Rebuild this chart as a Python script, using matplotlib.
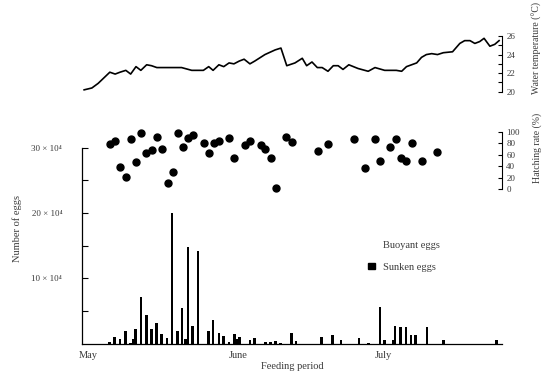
import matplotlib
matplotlib.use('Agg')
import matplotlib.pyplot as plt
from matplotlib.patches import Patch

plt.rcParams['font.family'] = ['Liberation Serif', 'DejaVu Serif']

# days counted from 1 May (May label at 0)
month_days = [0, 31, 61]
month_names = ['May', 'June', 'July']

# water temperature (deg C)
temp_day = [-0.8, 0.8, 2.1, 3.5, 4.5, 5.6, 6.6, 7.8, 8.8, 9.9, 10.9, 12.1, 13.1, 14.2, 17.3,
            19.3, 21.4, 23.8, 24.9, 25.8, 27.0, 28.0, 29.1, 30.1, 31.2, 32.2, 33.4, 34.4, 36.5,
            38.6, 39.8, 41.0, 42.7, 44.2, 45.1, 46.2, 47.3, 48.3, 49.5, 50.6, 51.6, 52.6, 53.8,
            55.7, 57.8, 59.2, 61.2, 63.6, 64.7, 65.7, 67.8, 68.8, 69.8, 70.9, 72.1, 73.3, 75.2,
            76.7, 77.7, 78.8, 79.8, 80.8, 81.7, 82.9, 83.9, 84.8]
temp_val = [20.2, 20.4, 20.9, 21.6, 22.1, 21.9, 22.1, 22.3, 21.9, 22.7, 22.3, 22.9, 22.8, 22.6, 22.6,
            22.6, 22.3, 22.3, 22.7, 22.3, 22.9, 22.7, 23.1, 23.0, 23.3, 23.5, 23.0, 23.3, 24.0,
            24.5, 24.7, 22.8, 23.1, 23.6, 22.8, 23.2, 22.6, 22.6, 22.2, 22.8, 22.8, 22.4, 22.9,
            22.5, 22.2, 22.6, 22.3, 22.3, 22.2, 22.7, 23.1, 23.7, 24.0, 24.1, 24.0, 24.2, 24.3,
            25.2, 25.5, 25.5, 25.2, 25.4, 25.75, 24.9, 25.1, 25.5]

# hatching rate (%)
hatch_day = [4.5, 5.6, 6.7, 7.8, 8.9, 9.9, 11.0, 12.0, 13.1, 14.2, 15.3, 16.4, 17.5, 18.5, 19.5,
             20.6, 21.6, 23.9, 24.9, 25.9, 27.0, 29.1, 30.2, 32.4, 33.4, 35.6, 36.6, 37.7, 38.8,
             40.8, 42.0, 47.4, 49.5, 54.9, 57.1, 59.1, 60.2, 62.3, 63.5, 64.5, 65.6, 66.8, 68.9, 72.0]
hatch_rate = [79, 84, 38, 21, 87, 48, 99, 64, 68, 92, 70, 11, 29, 99, 74,
              89, 95, 81, 64, 81, 84, 89, 54, 77, 85, 78, 71, 54, 2,
              92, 82, 66, 79, 88, 37, 88, 49, 74, 88, 55, 50, 81, 50, 65]

# sunken eggs (x 10^4)
egg_day = [4.5, 5.5, 6.6, 7.7, 8.8, 9.4, 9.8, 10.9, 12.0, 13.1, 14.1, 15.2, 16.3, 17.3, 18.4,
           19.4, 20.1, 20.6, 21.6, 22.7, 24.8, 25.8, 27.0, 28.0, 29.1, 30.2, 30.7, 31.3, 33.4,
           34.4, 36.6, 37.6, 38.7, 39.7, 42.0, 42.9, 48.2, 50.5, 52.2, 55.9, 57.9, 60.2, 61.2,
           62.9, 63.3, 64.5, 65.6, 66.6, 67.6, 69.9, 73.4, 84.3]
sunken = [0.2, 1.1, 0.7, 1.9, 0.15, 0.7, 2.2, 7.2, 4.4, 2.3, 3.2, 1.5, 0.8, 20.0, 2.0,
          5.5, 0.7, 14.8, 2.75, 14.2, 1.9, 3.7, 1.7, 1.2, 0.25, 1.5, 0.75, 1.1, 0.5,
          0.9, 0.2, 0.2, 0.4, 0.15, 1.6, 0.45, 1.1, 1.4, 0.6, 0.85, 0.15, 5.6, 0.6,
          0.6, 2.75, 2.5, 2.6, 1.4, 1.4, 2.5, 0.55, 0.5]

egg_ticks = [10, 20, 30]
egg_ticklabels = ['10 × 10⁴', '20 × 10⁴', '30 × 10⁴']

txt = '#3a3a3a'
W, H = 546, 374
xlim = (-1.3, 85.4)

fig = plt.figure(figsize=(W / 100, H / 100), dpi=100)

def fax(x0, y_top, x1, y_bot):
    return fig.add_axes([x0 / W, 1 - y_bot / H, (x1 - x0) / W, (y_bot - y_top) / H])

# --- egg bars
ax = fax(81.7, 147.6, 502, 343.7)
ax.bar(egg_day, sunken, width=0.55, color='black', linewidth=0)
ax.set_xlim(*xlim)
ax.set_ylim(0, 30)
ax.set_yticks(egg_ticks)
ax.set_yticklabels(egg_ticklabels, fontsize=6.5, color=txt)
ax.set_yticks([5, 15, 25], minor=True)
ax.tick_params(axis='y', which='both', direction='in', length=4, width=0.8, pad=14)
ax.set_xticks(month_days)
ax.set_xticklabels(month_names, fontsize=7.5, color=txt)
ax.tick_params(axis='x', length=0, pad=5)
for s in ['top', 'right']:
    ax.spines[s].set_visible(False)
ax.spines['left'].set_linewidth(0.9)
ax.spines['bottom'].set_linewidth(0.9)
ax.set_xlabel('Feeding period', fontsize=7.5, color=txt, labelpad=2)
fig.text(17 / W, 1 - 228 / H, 'Number of eggs', rotation=90, fontsize=7.5, color=txt,
         ha='center', va='center')
handles = [Patch(facecolor='white', edgecolor='white', label='Buoyant eggs'),
           Patch(facecolor='black', edgecolor='black', label='Sunken eggs')]
ax.legend(handles=handles, loc='upper left', bbox_to_anchor=(0.66, 0.57), frameon=False,
          fontsize=7.5, handlelength=0.6, handleheight=0.6, handletextpad=0.8,
          labelspacing=1.2, labelcolor=txt)

# --- hatching rate
ah = fax(81.7, 132, 502, 189)
ah.plot(hatch_day, hatch_rate, 'o', color='black', ms=5, clip_on=False)
ah.set_xlim(*xlim)
ah.set_ylim(0, 100)
ah.patch.set_alpha(0)
for s in ['top', 'left', 'bottom']:
    ah.spines[s].set_visible(False)
ah.spines['right'].set_linewidth(0.8)
ah.yaxis.tick_right()
ah.set_yticks([0, 20, 40, 60, 80, 100])
ah.tick_params(axis='y', direction='in', length=3, width=0.8, labelsize=6.5,
               labelcolor=txt, pad=3)
ah.set_xticks([])
fig.text(537 / W, 1 - 148 / H, 'Hatching rate (%)', rotation=90, fontsize=7, color=txt,
         ha='center', va='center')

# --- water temperature
at = fax(81.7, 36, 502, 91.7)
at.plot(temp_day, temp_val, color='black', lw=1.2)
at.set_xlim(*xlim)
at.set_ylim(20, 26)
at.patch.set_alpha(0)
for s in ['top', 'left', 'bottom']:
    at.spines[s].set_visible(False)
at.spines['right'].set_linewidth(0.8)
at.yaxis.tick_right()
at.set_yticks([20, 22, 24, 26])
at.set_yticks([21, 23, 25], minor=True)
at.tick_params(axis='y', which='both', direction='in', length=3, width=0.8, labelsize=6.5,
               labelcolor=txt, pad=3)
at.set_xticks([])
fig.text(537 / W, 1 - 48 / H, 'Water temperature (°C)', rotation=90, fontsize=7, color=txt,
         ha='center', va='center')

fig.savefig('out.png', dpi=100)
